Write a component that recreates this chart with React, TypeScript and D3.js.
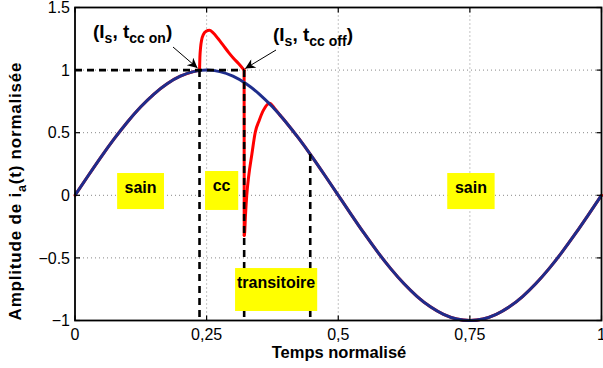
import React from "react";
import * as d3 from "d3";

// ---- data ----
const xTicks = [0, 0.25, 0.5, 0.75, 1];
const xTickLabels = ["0", "0,25", "0,5", "0,75", "1"];
const yTicks = [-1, -0.5, 0, 0.5, 1, 1.5];
const yTickLabels = ["\u22121", "\u22120.5", "0", "0.5", "1", "1.5"];

const healthyT = [
  0, 0.025, 0.05, 0.075, 0.1, 0.125, 0.15, 0.175, 0.2, 0.225, 0.25, 0.275, 0.3, 0.325, 0.35,
  0.375, 0.4, 0.425, 0.45, 0.475, 0.5, 0.525, 0.55, 0.575, 0.6, 0.625, 0.65, 0.675, 0.7,
  0.725, 0.75, 0.775, 0.8, 0.825, 0.85, 0.875, 0.9, 0.925, 0.95, 0.975, 1,
];
const healthyV = [
  0, 0.156, 0.309, 0.454, 0.588, 0.707, 0.809, 0.891, 0.951, 0.988, 1.0, 0.988, 0.951, 0.891,
  0.809, 0.707, 0.588, 0.454, 0.309, 0.156, 0, -0.156, -0.309, -0.454, -0.588, -0.707, -0.809,
  -0.891, -0.951, -0.988, -1.0, -0.988, -0.951, -0.891, -0.809, -0.707, -0.588, -0.454, -0.309,
  -0.156, 0,
];

// short-circuit overshoot (red curve, between t_cc_on and t_cc_off)
const ccT = [
  0.2365, 0.2372, 0.2385, 0.2405, 0.244, 0.249, 0.2553, 0.262, 0.272, 0.282, 0.292, 0.301,
  0.311, 0.3212,
];
const ccV = [0.996, 1.1, 1.18, 1.24, 1.285, 1.31, 1.318, 1.3, 1.25, 1.195, 1.14, 1.095, 1.05, 1.0];

// transient after t_cc_off (red curve)
const trT = [0.3214, 0.3222, 0.3238, 0.3262, 0.3298, 0.336, 0.3422, 0.35, 0.358, 0.3694, 0.38, 0.39];
const trV = [-0.32, -0.3, -0.16, 0.0, 0.15, 0.33, 0.5, 0.6, 0.68, 0.735, 0.69, 0.636];

// markers: t_cc_on, t_cc_off, end of transient
const markerT = [0.2365, 0.3213, 0.4468];
const markerV = [1, 1, 0.33];

// yellow labels: text, left, right, top, bottom (data units)
const labelText = ["sain", "cc", "transitoire", "sain"];
const labelLeft = [0.08, 0.247, 0.304, 0.707];
const labelRight = [0.169, 0.31, 0.46, 0.797];
const labelTop = [0.178, 0.194, -0.581, 0.178];
const labelBottom = [-0.11, -0.117, -0.924, -0.11];

export default function App() {
  const W = 603,
    H = 368;
  const x = d3.scaleLinear().domain([0, 1]).range([75, 601.5]);
  const y = d3.scaleLinear().domain([-1, 1.5]).range([320.5, 7.5]);

  const healthy = healthyT.map((t, i) => [t, healthyV[i]] as [number, number]);
  const before = healthy.filter((d) => d[0] < markerT[0] - 0.005);
  const after = healthy.filter((d) => d[0] > 0.395);
  const cc = ccT.map((t, i) => [t, ccV[i]] as [number, number]);
  const tr = trT.map((t, i) => [t, trV[i]] as [number, number]);

  const lineSmooth = d3
    .line<[number, number]>()
    .x((d) => x(d[0]))
    .y((d) => y(d[1]))
    .curve(d3.curveNatural);
  const lineMono = d3
    .line<[number, number]>()
    .x((d) => x(d[0]))
    .y((d) => y(d[1]))
    .curve(d3.curveMonotoneX);
  const lineStraight = d3
    .line<[number, number]>()
    .x((d) => x(d[0]))
    .y((d) => y(d[1]));

  const redA = lineSmooth([...before, cc[0]]) || "";
  const redB = lineMono(cc) || "";
  const redDrop = lineStraight([cc[cc.length - 1], tr[0]]) || "";
  const redC = lineMono(tr) || "";
  const redD = lineSmooth([tr[tr.length - 1], ...after]) || "";

  const font = "'Liberation Sans', Arial, Helvetica, sans-serif";
  const x0 = x(0),
    x1 = x(1),
    yTop = y(1.5),
    yBot = y(-1);

  return (
    <div style={{ position: "absolute", left: 0, top: 0 }}>
      <svg width={W} height={H} style={{ display: "block", background: "#fff" }} fontFamily={font}>
        <defs>
          <marker
            id="ah"
            viewBox="0 0 10 10"
            refX="10"
            refY="5"
            markerWidth="12"
            markerHeight="10"
            markerUnits="userSpaceOnUse"
            orient="auto"
          >
            <path d="M0,0 L10,5 L0,10 L3,5 Z" fill="#000" />
          </marker>
        </defs>
        <rect x={0} y={0} width={W} height={H} fill="#fff" />
        {/* grid */}
        {xTicks.slice(1, -1).map((t) => (
          <line
            key={"gx" + t}
            x1={x(t)}
            x2={x(t)}
            y1={yTop}
            y2={yBot}
            stroke="#888"
            strokeWidth={1}
            strokeDasharray="1,3"
          />
        ))}
        {yTicks.slice(1, -1).map((v) => (
          <line
            key={"gy" + v}
            x1={x0}
            x2={x1}
            y1={y(v)}
            y2={y(v)}
            stroke="#888"
            strokeWidth={1}
            strokeDasharray="1,3"
          />
        ))}
        {/* curves */}
        <g fill="none" stroke="#ff0000" strokeWidth={3} strokeLinejoin="round" strokeLinecap="round">
          <path d={redA} />
          <path d={redB} />
          <path d={redDrop} />
          <path d={redC} />
          <path d={redD} />
        </g>
        <path d={lineSmooth(healthy) || ""} fill="none" stroke="#1e2d8c" strokeWidth={3} />
        {/* dashed markers */}
        <g stroke="#000" strokeWidth={2.6} strokeDasharray="7,5" fill="none">
          <line x1={x0} x2={x(markerT[1])} y1={y(1)} y2={y(1)} />
          {markerT.map((t, i) => (
            <line key={"m" + i} x1={x(t)} x2={x(t)} y1={y(markerV[i])} y2={yBot} />
          ))}
        </g>
        {/* yellow labels */}
        {labelText.map((s, i) => {
          const lx = x(labelLeft[i]);
          const rx = x(labelRight[i]);
          const ty = y(labelTop[i]);
          const by = y(labelBottom[i]);
          return (
            <g key={"lab" + i}>
              <rect x={lx} y={ty} width={rx - lx} height={by - ty} fill="#ffff00" />
              <text
                x={(lx + rx) / 2}
                y={ty + 19.5}
                textAnchor="middle"
                fontSize={16}
                fontWeight="bold"
                fill="#000"
              >
                {s}
              </text>
            </g>
          );
        })}
        {/* axes box */}
        <rect x={x0} y={yTop} width={x1 - x0} height={yBot - yTop} fill="none" stroke="#000" strokeWidth={1.8} />
        {/* ticks */}
        {xTicks.map((t) => (
          <g key={"tx" + t} stroke="#000" strokeWidth={1.2}>
            <line x1={x(t)} x2={x(t)} y1={yBot} y2={yBot - 5} />
            <line x1={x(t)} x2={x(t)} y1={yTop} y2={yTop + 5} />
          </g>
        ))}
        {yTicks.map((v) => (
          <g key={"ty" + v} stroke="#000" strokeWidth={1.2}>
            <line x1={x0} x2={x0 + 5} y1={y(v)} y2={y(v)} />
            <line x1={x1} x2={x1 - 5} y1={y(v)} y2={y(v)} />
          </g>
        ))}
        {/* tick labels */}
        {xTicks.map((t, i) => (
          <text key={"xl" + t} x={x(t)} y={340} textAnchor="middle" fontSize={16} fill="#000">
            {xTickLabels[i]}
          </text>
        ))}
        {yTicks.map((v, i) => (
          <text
            key={"yl" + v}
            x={70}
            y={y(v)}
            dy="0.36em"
            textAnchor="end"
            fontSize={16}
            fill="#000"
          >
            {yTickLabels[i]}
          </text>
        ))}
        {/* axis titles */}
        <text x={339} y={357.5} textAnchor="middle" fontSize={16.5} fontWeight="bold" fill="#000">
          Temps normalisé
        </text>
        <text
          transform="translate(21,191) rotate(-90)"
          textAnchor="middle"
          fontSize={17}
          fontWeight="bold"
          letterSpacing={0.8}
          fill="#000"
        >
          Amplitude de i<tspan fontSize={12.5} dy={5}>a</tspan>
          <tspan dy={-5}>(t) normalisée</tspan>
        </text>
        {/* annotations */}
        <text x={93} y={37.5} fontSize={19} fontWeight="bold" fill="#000">
          (I<tspan fontSize={14} dy={5}>s</tspan>
          <tspan dy={-5}>, t</tspan>
          <tspan fontSize={14} dy={5}>cc on</tspan>
          <tspan dy={-5}>)</tspan>
        </text>
        <text x={273} y={40.5} fontSize={19} fontWeight="bold" fill="#000">
          (I<tspan fontSize={14} dy={5}>s</tspan>
          <tspan dy={-5}>, t</tspan>
          <tspan fontSize={14} dy={5}>cc off</tspan>
          <tspan dy={-5}>)</tspan>
        </text>
        <line x1={173} y1={47} x2={x(markerT[0]) - 2} y2={y(1) - 2} stroke="#000" strokeWidth={1} markerEnd="url(#ah)" />
        <line x1={276} y1={50} x2={x(markerT[1]) + 1} y2={y(1) - 1.5} stroke="#000" strokeWidth={1} markerEnd="url(#ah)" />
      </svg>
    </div>
  );
}
